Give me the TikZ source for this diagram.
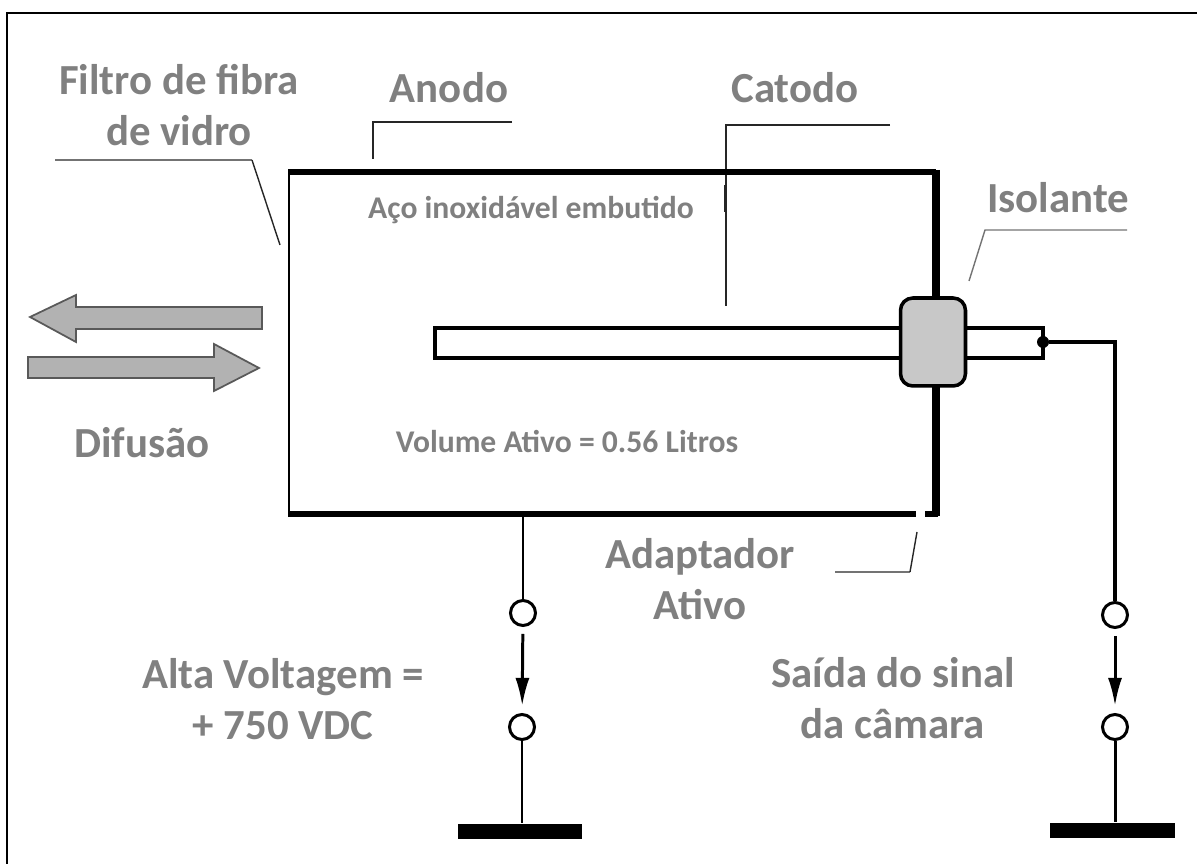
\documentclass[tikz,border=0pt]{standalone}
\usepackage{fontspec}
\setmainfont{Carlito}
\usepackage{tikz}
\usetikzlibrary{arrows.meta}
\definecolor{LabelGrey}{RGB}{128,128,128}
\definecolor{ArrowGrey}{RGB}{178,178,178}
\definecolor{SealGrey}{RGB}{200,200,200}
\tikzset{
	biglabel/.style={text=LabelGrey, font=\fontsize{24.4}{29}\selectfont\bfseries, align=center, inner sep=0pt},
	smalllabel/.style={text=LabelGrey, font=\fontsize{18}{22}\selectfont\bfseries, inner sep=0pt},
	leader/.style={draw=black!55, line width=0.8pt},
	darkleader/.style={draw=black!85, line width=0.8pt},
	wire/.style={line width=1.7pt},
	terminal/.style={draw, circle, line width=1.7pt, fill=white, minimum size=0.5cm, inner sep=0pt},
	ground/.style={fill=black, minimum width=2.5cm, minimum height=0.3cm, inner sep=0pt},
	flow/.style={draw=black!65, fill=ArrowGrey, line width=1pt}
}

\begin{document}
\begin{tikzpicture}[x=0.02cm,y=-0.02cm]
		\useasboundingbox (0,0) rectangle (1197,864);
		\draw [line width=1.5pt] (7,864) -- (7,13) -- (1197,13);
		
		% labels
		\node [biglabel] (filtro) at (179,105) {Filtro de fibra\\de vidro};
		\node [biglabel] (anodo) at (449,88) {Anodo};
		\node [biglabel] (catodo) at (795,88) {Catodo};
		\node [biglabel] (isolante) at (1058,198) {Isolante};
		\node [biglabel] (difusao) at (142,443) {Difusão};
		\node [biglabel] (adaptador) at (700,579) {Adaptador\\Ativo};
		\node [biglabel] (alta) at (283,699) {Alta Voltagem =\\+ 750 VDC};
		\node [biglabel] (saida) at (893,698) {Saída do sinal\\da câmara};
		\node [smalllabel] (aco) at (531,210) {Aço inoxidável embutido};
		\node [smalllabel] (volume) at (567,441) {Volume Ativo = 0.56 Litros};
		
		% leader lines
		\draw [leader] (55,160) -- (252,160);
		\draw [darkleader] (252,160) -- (280,245);
		\draw [darkleader] (512,122) -- (373,122) -- (373,159);
		\draw [darkleader] (890,125) -- (726,125) -- (726,306);
		\draw [darkleader, line width=1.4pt] (725,185) -- (725,212);
		\draw [leader] (1127,230) -- (985,230) -- (969,281);
		\draw [leader] (835,572) -- (910,572);
		\draw [darkleader] (910,572) -- (917,532);
		
		% diffusion arrows
		\draw [flow] (262,307) -- (76,307) -- (76,295) -- (30,317) -- (76,342) -- (76,329) -- (262,329) -- cycle;
		\draw [flow] (28,357) -- (214,357) -- (214,344) -- (259,368) -- (214,391) -- (214,378) -- (28,378) -- cycle;
		
		% chamber
		\draw [line width=1.7pt] (289,172) -- (289,514);
		\draw [line width=3pt] (288,172) -- (936,172);
		\draw [line width=3pt] (288,514) -- (916,514);
		\draw [line width=4pt] (936,170) -- (936,516);
		\draw [line width=3pt] (925,514) -- (938,514);
		
		% central electrode
		\draw [line width=2.6pt, fill=white] (435,328) rectangle (1043,358);
		\node [draw, fill=SealGrey, line width=2pt, rounded corners=7pt, minimum width=1.3cm, minimum height=1.76cm, inner sep=0pt] (seal) at (933,342) {};
		
		% circuit
		\coordinate (anodotap) at (523,514);
		\node [fill, circle, inner sep=0pt, minimum size=0.24cm] (contact) at (1043,342) {};
		\node [terminal] (terma) at (523,613) {};
		\node [terminal] (termb) at (522,727) {};
		\node [ground] (gnda) at (520,831) {};
		\node [terminal] (termc) at (1115,615) {};
		\node [terminal] (termd) at (1115,727) {};
		\node [ground] (gndb) at (1112,830) {};
		\draw [wire] (anodotap) -- (terma);
		\draw [wire, shorten <=7*0.02cm, shorten >=7*0.02cm, -{Latex[length=16pt,width=8pt]}] (terma) -- (termb);
		\draw [wire] (termb) -- (termb |- gnda.north);
		\draw [wire, line width=2.2pt] (contact) -| (termc);
		\draw [wire, shorten <=7*0.02cm, shorten >=7*0.02cm, -{Latex[length=16pt,width=8pt]}] (termc) -- (termd);
		\draw [wire] (termd) -- (termd |- gndb.north);
	\end{tikzpicture}
\end{document}
